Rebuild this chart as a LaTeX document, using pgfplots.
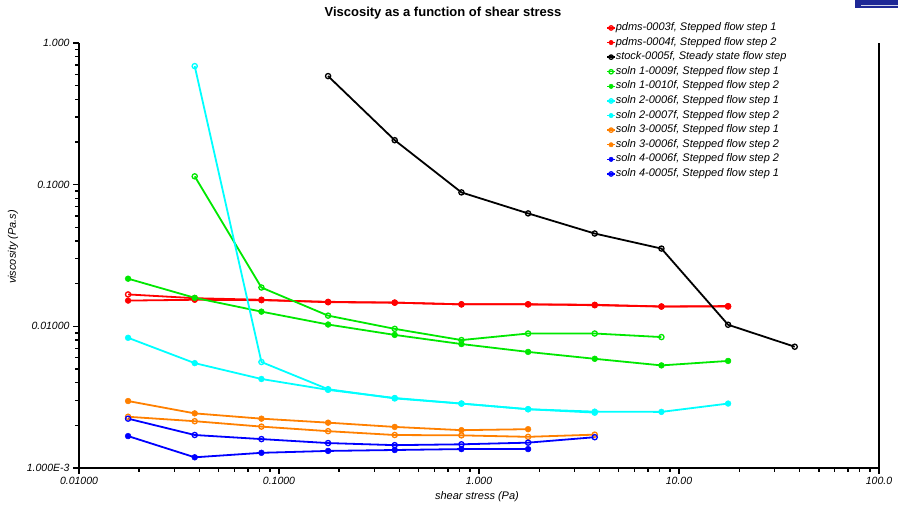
\documentclass[border=0pt]{standalone}
\usepackage{pgfplots}
\pgfplotsset{compat=1.18}
\usepackage{fontspec}
\setmainfont{Liberation Sans}

\definecolor{cred}{RGB}{255,0,0}
\definecolor{cgreen}{RGB}{0,232,0}
\definecolor{ccyan}{RGB}{0,255,255}
\definecolor{corange}{RGB}{255,128,0}
\definecolor{cblue}{RGB}{0,0,255}
\definecolor{navybox}{RGB}{30,40,150}

\pgfplotsset{
  open/.style={line width=1.8pt, mark=o, mark size=2.6pt, mark options={line width=1.3pt, fill=white}},
  filled/.style={line width=1.8pt, mark=*, mark size=2.9pt, mark options={line width=0.5pt}},
}

\begin{document}
\begin{tikzpicture}
\begin{axis}[
  scale only axis,
  width=800pt, height=425pt,
  xmode=log, ymode=log,
  xmin=0.01, xmax=100,
  ymin=0.001, ymax=1,
  axis x line=bottom, axis y line=box,
  axis line style={-, line width=1.8pt},
  ytick pos=left,
  tick align=outside,
  major tick length=6pt, minor tick length=4pt,
  every tick/.style={black, line width=1.4pt},
  xtick={0.01,0.1,1,10,100},
  xticklabels={0.01000,0.1000,1.000,10.00,100.0},
  minor xtick={0.02,0.03,0.04,0.05,0.06,0.07,0.08,0.09,0.2,0.3,0.4,0.5,0.6,0.7,0.8,0.9,2,3,4,5,6,7,8,9,20,30,40,50,60,70,80,90},
  ytick={0.001,0.01,0.1,1},
  yticklabels={1.000E-3,0.01000,0.1000,1.000},
  minor ytick={0.002,0.003,0.004,0.005,0.006,0.007,0.008,0.009,0.02,0.03,0.04,0.05,0.06,0.07,0.08,0.09,0.2,0.3,0.4,0.5,0.6,0.7,0.8,0.9},
  tick label style={font=\itshape\fontsize{10.5}{12}\selectfont},
  xlabel={shear stress (Pa)},
  ylabel={viscosity (Pa.s)},
  label style={font=\itshape\fontsize{11}{13}\selectfont},
  xlabel style={at={(axis description cs:0.4975,-0.068)}, anchor=center},
  ylabel style={at={(axis description cs:-0.0825,0.52)}, anchor=center, rotate=0},
  title={Viscosity as a function of shear stress},
  title style={at={(axis description cs:0.455,1.057)}, anchor=center, font=\bfseries\fontsize{13}{15}\selectfont},
  legend cell align=left,
  legend style={at={(axis description cs:0.659,1.05)}, anchor=north west,
    draw=none, fill=none, inner sep=0pt, row sep=2.6pt,
    font=\itshape\fontsize{11}{13}\selectfont,
    nodes={inner sep=0pt, text height=8.5pt, text depth=3.5pt},
    /tikz/every even column/.append style={column sep=4pt}},
  legend image code/.code={\draw[mark repeat=2, mark phase=2, mark size=2.2pt, line width=1.4pt] plot coordinates {(0pt,0pt) (4pt,0pt) (8pt,0pt)};},
  clip=false,
]
% pdms-0003f step 1
\addplot[cred, open] coordinates {(0.0176,0.0168)(0.0379,0.0158)(0.0817,0.0154)(0.176,0.0148)(0.379,0.0147)(0.817,0.0143)(1.76,0.0143)(3.79,0.0141)(8.17,0.0138)(17.6,0.0138)};
\addlegendentry{pdms-0003f, Stepped flow step 1}
% pdms-0004f step 2
\addplot[cred, filled] coordinates {(0.0176,0.0152)(0.0379,0.0154)(0.0817,0.0153)(0.176,0.0149)(0.379,0.0147)(0.817,0.0143)(1.76,0.0143)(3.79,0.0142)(8.17,0.0138)(17.6,0.0139)};
\addlegendentry{pdms-0004f, Stepped flow step 2}
% stock-0005f
\addplot[black, open] coordinates {(0.176,0.584)(0.379,0.206)(0.817,0.0882)(1.76,0.0627)(3.79,0.0452)(8.17,0.0354)(17.6,0.01026)(37.9,0.00718)};
\addlegendentry{stock-0005f, Steady state flow step}
% soln 1-0009f step 1
\addplot[cgreen, open] coordinates {(0.0379,0.1145)(0.0817,0.0188)(0.176,0.0119)(0.379,0.0096)(0.817,0.0080)(1.76,0.0089)(3.79,0.0089)(8.17,0.0084)};
\addlegendentry{soln 1-0009f, Stepped flow step 1}
% soln 1-0010f step 2
\addplot[cgreen, filled] coordinates {(0.0176,0.0217)(0.0379,0.0159)(0.0817,0.0127)(0.176,0.0103)(0.379,0.0087)(0.817,0.0075)(1.76,0.0066)(3.79,0.0059)(8.17,0.0053)(17.6,0.0057)};
\addlegendentry{soln 1-0010f, Stepped flow step 2}
% soln 2-0006f step 1
\addplot[ccyan, open] coordinates {(0.0379,0.687)(0.0817,0.0056)(0.176,0.0036)(0.379,0.0031)(0.817,0.00285)(1.76,0.0026)(3.79,0.00246)};
\addlegendentry{soln 2-0006f, Stepped flow step 1}
% soln 2-0007f step 2
\addplot[ccyan, filled] coordinates {(0.0176,0.0083)(0.0379,0.0055)(0.0817,0.00425)(0.176,0.00356)(0.379,0.00312)(0.817,0.00285)(1.76,0.0026)(3.79,0.0025)(8.17,0.00249)(17.6,0.00285)};
\addlegendentry{soln 2-0007f, Stepped flow step 2}
% soln 3-0005f step 1
\addplot[corange, open] coordinates {(0.0176,0.0023)(0.0379,0.00214)(0.0817,0.00196)(0.176,0.00182)(0.379,0.00171)(0.817,0.0017)(1.76,0.00166)(3.79,0.00172)};
\addlegendentry{soln 3-0005f, Stepped flow step 1}
% soln 3-0006f step 2
\addplot[corange, filled] coordinates {(0.0176,0.00297)(0.0379,0.00243)(0.0817,0.00223)(0.176,0.00209)(0.379,0.00195)(0.817,0.00185)(1.76,0.00188)};
\addlegendentry{soln 3-0006f, Stepped flow step 2}
% soln 4-0006f step 2
\addplot[cblue, filled] coordinates {(0.0176,0.00168)(0.0379,0.00119)(0.0817,0.00128)(0.176,0.00132)(0.379,0.00134)(0.817,0.00136)(1.76,0.00136)};
\addlegendentry{soln 4-0006f, Stepped flow step 2}
% soln 4-0005f step 1
\addplot[cblue, open] coordinates {(0.0176,0.00223)(0.0379,0.00171)(0.0817,0.0016)(0.176,0.0015)(0.379,0.00145)(0.817,0.00147)(1.76,0.00151)(3.79,0.00165)};
\addlegendentry{soln 4-0005f, Stepped flow step 1}
\end{axis}
\fill[navybox] ([shift={(-24pt,35pt)}]current axis.north east) rectangle ([shift={(19pt,43pt)}]current axis.north east);
\fill[white!80!navybox] ([shift={(-18pt,36.5pt)}]current axis.north east) rectangle ([shift={(19pt,38pt)}]current axis.north east);
\pgfresetboundingbox
\path[use as bounding box] ([shift={(-79pt,-38pt)}]current axis.south west) rectangle ([shift={(19pt,43pt)}]current axis.north east);
\end{tikzpicture}
\end{document}
